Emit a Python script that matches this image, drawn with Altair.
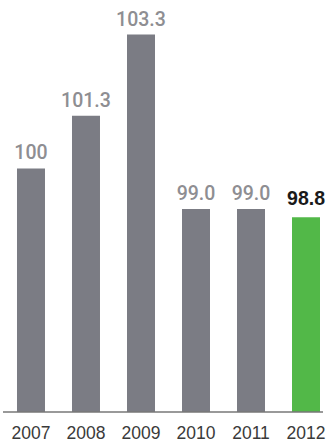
import altair as alt
import pandas as pd

years = ["2007", "2008", "2009", "2010", "2011", "2012"]
values = [100.0, 101.3, 103.3, 99.0, 99.0, 98.8]
labels = ["100", "101.3", "103.3", "99.0", "99.0", "98.8"]
highlight = [False, False, False, False, False, True]

df = pd.DataFrame({"year": years, "value": values, "label": labels, "hl": highlight})

FONT = "Liberation Sans"

x = alt.X("year:N", sort=years, title=None,
          scale=alt.Scale(paddingInner=0.491, paddingOuter=0.2545, range=[0, 331]),
          axis=alt.Axis(labelAngle=0, labelFontSize=17.5, labelColor="#3a3a3a",
                        labelFont=FONT, ticks=False, domain=False, labelPadding=12,
                        grid=False))
y = alt.Y("value:Q", title=None,
          scale=alt.Scale(domain=[94, 104.15], zero=False, nice=False),
          axis=None)

base = alt.Chart(df)

bars = base.mark_bar().encode(
    x=x, y=y, y2=alt.datum(94),
    color=alt.condition("datum.hl", alt.value("#52b848"), alt.value("#7b7c84")),
)

text_gray = base.transform_filter("!datum.hl").mark_text(
    baseline="alphabetic", dy=-9, font="Roboto", fontSize=19.5, fontWeight=500,
    color="#8e8e92"
).encode(x=alt.X("year:N", sort=years), y=alt.Y("value:Q"), text="label:N")

text_hl = base.transform_filter("datum.hl").mark_text(
    baseline="alphabetic", dy=-12, font=FONT, fontSize=19.5, fontWeight="bold",
    color="#1a1a1a"
).encode(x=alt.X("year:N", sort=years), y=alt.Y("value:Q"), text="label:N")

rule = alt.Chart(pd.DataFrame({"a": [0]})).mark_rule(color="#777777", strokeWidth=1.5).encode(
    x=alt.value(0), x2=alt.value(320), y=alt.value(412)
)

chart = alt.layer(bars, text_gray, text_hl, rule).properties(
    width=326, height=412,
    autosize=alt.AutoSizeParams(type="none"),
    padding={"left": 3, "top": 0, "right": 0, "bottom": 31},
).configure_view(strokeWidth=0)

chart.save("out.html", embed_options={"renderer": "svg", "actions": False})
